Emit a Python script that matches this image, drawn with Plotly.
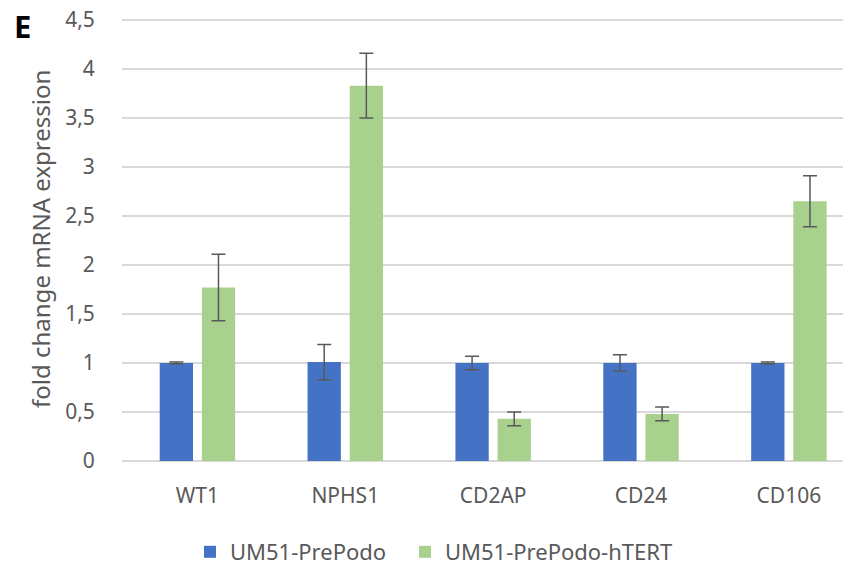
import plotly.graph_objects as go

categories = ["WT1", "NPHS1", "CD2AP", "CD24", "CD106"]
prepodo = [1.0, 1.01, 1.0, 1.0, 1.0]
prepodo_err = [0.01, 0.18, 0.07, 0.085, 0.01]
htert = [1.77, 3.83, 0.43, 0.48, 2.65]
htert_err = [0.34, 0.33, 0.07, 0.07, 0.26]
y_ticks = [0, 0.5, 1, 1.5, 2, 2.5, 3, 3.5, 4, 4.5]

err_style = dict(type="data", color="#595959", thickness=1.5, width=7)

fig = go.Figure()
fig.add_trace(go.Bar(
    name="UM51-PrePodo", x=categories, y=prepodo,
    marker=dict(color="#4472C4", line=dict(width=0)),
    error_y=dict(array=prepodo_err, **err_style),
    legend="legend",
))
fig.add_trace(go.Bar(
    name="UM51-PrePodo-hTERT", x=categories, y=htert,
    marker=dict(color="#A9D18E", line=dict(width=0)),
    error_y=dict(array=htert_err, **err_style),
    legend="legend2",
))

W, H = 843, 559
L, T, B = 114, 9, 106
PW, PH = W - L, H - T - B
OFF = 8  # page offset of the figure inside the browser window
Y_TOP = 4.5 * PH / 441  # keeps 98 px per unit with a little headroom

font_family = "Noto Sans"
leg_common = dict(orientation="h", yanchor="middle", xanchor="left",
                  y=-(552 - OFF - (T + PH)) / PH,
                  font=dict(size=22, color="#595959"), itemwidth=30,
                  bgcolor="rgba(0,0,0,0)")
fig.update_layout(
    width=W, height=H,
    margin=dict(l=L, r=0, t=T, b=B, autoexpand=False),
    paper_bgcolor="white", plot_bgcolor="white",
    separators=", ",
    barmode="group", bargap=0.43, bargroupgap=0.21,
    font=dict(family=font_family, color="#595959", size=17),
    title=dict(text="<b>E</b>", x=6/W, xanchor="left", xref="container",
               y=1 - 8/H, yanchor="top", yref="container",
               font=dict(size=31, color="black", family=font_family)),
    showlegend=True,
    legend=dict(x=(190 - OFF - L) / PW, **leg_common),
    legend2=dict(x=(405 - OFF - L) / PW, **leg_common),
    xaxis=dict(type="category", range=[-0.51, 4.42], showgrid=False, automargin=False,
               showline=False, zeroline=False, ticks="", ticklabelstandoff=20,
               ticklabeloverflow="allow",
               tickfont=dict(size=21, color="#595959")),
    yaxis=dict(range=[0, Y_TOP], tickvals=y_ticks, showgrid=True, automargin=False,
               gridcolor="#d9d9d9", gridwidth=1.5, zeroline=True,
               zerolinecolor="#d9d9d9", zerolinewidth=1.5, showline=False,
               ticks="outside", ticklen=22, tickcolor="rgba(0,0,0,0)",
               ticklabeloverflow="allow",
               tickfont=dict(size=21, color="#595959")),
)
fig.add_annotation(text="fold change mRNA expression", textangle=-90,
                   xref="paper", yref="paper", x=(32 - L) / PW, y=0.5,
                   xanchor="center", yanchor="middle", showarrow=False,
                   font=dict(size=24, color="#595959", family=font_family))

fig.write_html("out.html")
